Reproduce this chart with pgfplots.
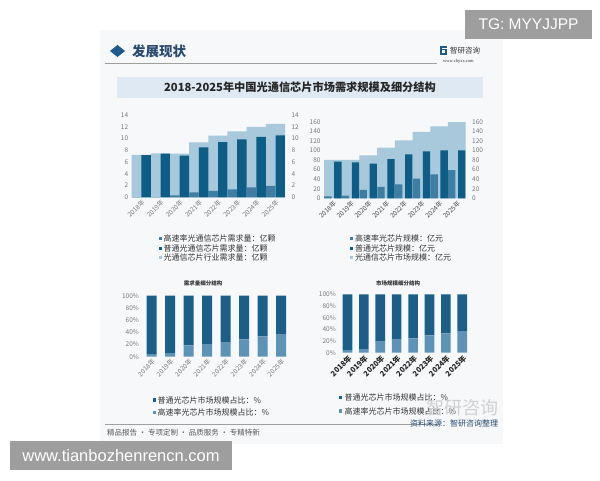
\documentclass[border=0pt]{standalone}
\usepackage{pgfplots}
\pgfplotsset{compat=1.18}
\usepackage{fontspec}
\setmainfont{Noto Sans CJK SC}
\newfontfamily\latin{Liberation Sans}
\newfontfamily\serifl{Liberation Serif}

\definecolor{panel}{HTML}{F6F8FA}
\definecolor{band}{HTML}{DEE9F3}
\definecolor{navy}{HTML}{1F5A8A}
\definecolor{hdr}{HTML}{2A4A70}
\definecolor{light}{HTML}{A8C9DB}
\definecolor{mid}{HTML}{3F7DA3}
\definecolor{dark}{HTML}{0D5D87}
\definecolor{sdark}{HTML}{1B5F89}
\definecolor{smid}{HTML}{5D93B7}
\definecolor{tick}{HTML}{7A7A7A}
\definecolor{txt}{HTML}{333333}
\definecolor{tg}{HTML}{9E9E9E}

\pgfplotsset{
  chart/.style={
    scale only axis, anchor=south west, clip=false,
    axis line style={draw=none}, major tick length=0pt,
    /pgf/number format/assume math mode=true,
    yticklabel style={font=\fontsize{6.5}{7}\selectfont, text=tick},
    xmin=-0.5, xmax=7.5, xtick={0,...,7},
    xticklabels={2018年,2019年,2020年,2021年,2022年,2023年,2024年,2025年},
    x tick label style={rotate=45, anchor=north east, inner sep=1pt,
      font=\fontsize{6.5}{7}\selectfont, text=tick},
  },
  rightlabels/.style={
    scale only axis, anchor=south west,
    axis line style={draw=none}, major tick length=0pt,
    /pgf/number format/assume math mode=true,
    yticklabel pos=right, xtick=\empty,
    yticklabel style={font=\fontsize{6.5}{7}\selectfont, text=tick, xshift=3pt},
    xmin=-0.5, xmax=7.5,
  },
}

\begin{document}
\begin{tikzpicture}[x=1pt,y=1pt]
% canvas and panel
\fill[white] (0,0) rectangle (600,480);
\fill[panel] (100,36) rectangle (503,450);

% header
\fill[navy] (110,429) -- (117.5,435) -- (125,429) -- (117.5,423) -- cycle;
\node[anchor=west, text=hdr, inner sep=0] at (132,429) {\fontsize{13.5}{14}\selectfont\bfseries 发展现状};
\draw[gray!75, line width=0.8pt] (105,416.7) -- (437,416.7);
\fill[navy] (440,425) rectangle (447,434);
\fill[panel] (442,427) rectangle (445,429.5);
\fill[panel] (442,430.5) rectangle (447,432);
\node[anchor=west, text=txt, inner sep=0] at (450,429.5) {\fontsize{7.5}{8}\selectfont 智研咨询};
\node[anchor=west, text=txt, inner sep=0] at (443,418.5) {\serifl\fontsize{4.5}{5}\selectfont www.chyxx.com};

% title band
\fill[band] (117,381.7) rectangle (483,403.3);
\node[text=black!85, inner sep=0] at (300,392.5) {\fontsize{11.2}{12}\selectfont\bfseries 2018-2025年中国光通信芯片市场需求规模及细分结构};

% chart 1: demand volume
\begin{axis}[chart, at={(131.7pt,282.7pt)}, width=153.3pt, height=82.3pt,
  ymin=0, ymax=14, ytick={0,2,...,14}]
\addplot[ybar, bar width=19.2pt, bar shift=0pt, fill=light, draw=none]
  coordinates {(0,7.20) (1,7.48) (2,7.43) (3,9.35) (4,10.48) (5,11.22) (6,11.96) (7,12.47)};
\addplot[ybar, bar width=9.4pt, bar shift=-4.8pt, fill=mid, draw=none]
  coordinates {(0,0.02) (1,0.05) (2,0.34) (3,0.85) (4,1.08) (5,1.36) (6,1.70) (7,1.93)};
\addplot[ybar, bar width=9.4pt, bar shift=4.8pt, fill=dark, draw=none]
  coordinates {(0,7.18) (1,7.43) (2,7.09) (3,8.50) (4,9.40) (5,9.86) (6,10.26) (7,10.54)};
\end{axis}
\begin{axis}[rightlabels, at={(131.7pt,282.7pt)}, width=153.3pt, height=82.3pt,
  ymin=0, ymax=14, ytick={0,2,...,14}]
\end{axis}

% chart 2: market size
\begin{axis}[chart, at={(324pt,281.7pt)}, width=141.7pt, height=76.6pt,
  ymin=0, ymax=160, ytick={0,20,...,160},
  x tick label style={text=black!70}]
\addplot[ybar, bar width=17.7pt, bar shift=0pt, fill=light, draw=none]
  coordinates {(0,80.5) (1,80.5) (2,89.7) (3,105.7) (4,121.2) (5,139) (6,150) (7,159)};
\addplot[ybar, bar width=7.3pt, bar shift=-5pt, fill=mid, draw=none]
  coordinates {(0,4) (1,5.5) (2,17.4) (3,23.7) (4,29.2) (5,41) (6,50) (7,59)};
\addplot[ybar, bar width=7.3pt, bar shift=5pt, fill=dark, draw=none]
  coordinates {(0,76.5) (1,75) (2,72.3) (3,82) (4,92) (5,98) (6,100) (7,100)};
\end{axis}
\begin{axis}[rightlabels, at={(324pt,281.7pt)}, width=141.7pt, height=76.6pt,
  ymin=0, ymax=160, ytick={0,20,...,160}]
\end{axis}

% legends, top row
\foreach \y/\c/\t in {241.7/mid/高速率光通信芯片需求量：亿颗, 231.7/dark/普通光通信芯片需求量：亿颗, 222.7/light/光通信芯片行业需求量：亿颗}{
  \fill[\c] (158.5,\y-1.6) rectangle (161.7,\y+1.6);
  \node[anchor=west, inner sep=0, text=txt] at (163.5,\y) {\fontsize{8}{8}\selectfont \t};
}
\foreach \y/\c/\t in {241.7/mid/高速率光芯片规模：亿元, 231.7/dark/普通光芯片规模：亿元, 222.7/light/光通信芯片市场规模：亿元}{
  \fill[\c] (350,\y-1.6) rectangle (353.2,\y+1.6);
  \node[anchor=west, inner sep=0, text=txt] at (355,\y) {\fontsize{8}{8}\selectfont \t};
}

% subtitles
\node[inner sep=0, text=txt] at (203,197) {\fontsize{5.5}{6}\selectfont\bfseries 需求量细分结构};
\node[inner sep=0, text=txt] at (398,197) {\fontsize{5.5}{6}\selectfont\bfseries 市场规模细分结构};

% chart 3: demand structure
\begin{axis}[chart, at={(142.45pt,123.3pt)}, width=148pt, height=61pt,
  ybar stacked, bar width=10pt,
  ymin=0, ymax=100, ytick={0,20,...,100},
  yticklabels={0\%,20\%,40\%,60\%,80\%,100\%}]
\addplot[fill=smid, draw=none]
  coordinates {(0,4.4) (1,6.0) (2,18.6) (3,20.8) (4,23.0) (5,28.4) (6,33.3) (7,36.0)};
\addplot[fill=sdark, draw=none]
  coordinates {(0,95.6) (1,94.0) (2,81.4) (3,79.2) (4,77.0) (5,71.6) (6,66.7) (7,64.0)};
\end{axis}

% chart 4: market structure
\begin{axis}[chart, at={(339.3pt,127.3pt)}, width=131.2pt, height=58.4pt,
  ybar stacked, bar width=9.6pt,
  ymin=0, ymax=100, ytick={0,20,...,100},
  yticklabels={0\%,20\%,40\%,60\%,80\%,100\%},
  x tick label style={font=\fontsize{7.5}{8}\selectfont\bfseries, text=black!85}]
\addplot[fill=smid, draw=none]
  coordinates {(0,4.6) (1,6.3) (2,18.9) (3,22.3) (4,24.6) (5,29.7) (6,33.1) (7,37.1)};
\addplot[fill=sdark, draw=none]
  coordinates {(0,95.4) (1,93.7) (2,81.1) (3,77.7) (4,75.4) (5,70.3) (6,66.9) (7,62.9)};
\end{axis}

% legends, bottom row
\foreach \y/\c/\t in {80/sdark/普通光芯片市场规模占比：\%, 67.7/smid/高速率光芯片市场规模占比：\%}{
  \fill[\c] (152.5,\y-1.6) rectangle (155.7,\y+1.6);
  \node[anchor=west, inner sep=0, text=txt] at (157.5,\y) {\fontsize{8}{8}\selectfont \t};
}
\foreach \y/\c/\t in {82.3/sdark/普通光芯片市场规模占比：\%, 69/smid/高速率光芯片市场规模占比：\%}{
  \fill[\c] (339,\y-1.6) rectangle (342.2,\y+1.6);
  \node[anchor=west, inner sep=0, text=txt] at (344.5,\y) {\fontsize{8}{8}\selectfont \t};
}

% watermark and footer
\node[text=black!18, inner sep=0] at (462,72) {\fontsize{18}{18}\selectfont 智研咨询};
\draw[gray!75, line width=0.8pt] (105,56) -- (440,56);
\node[anchor=west, inner sep=0, text=black!65] at (107,47) {\fontsize{7.5}{8}\selectfont 精品报告 · 专项定制 · 品质服务 · 专精特新};
\node[anchor=west, inner sep=0, text=hdr] at (410,57) {\fontsize{8}{8}\selectfont 资料来源：智研咨询整理};

% overlay boxes
\fill[tg] (465,441) rectangle (592,470);
\node[text=white, inner sep=0] at (528.5,455.5) {\latin\fontsize{15.5}{16}\selectfont TG: MYYJJPP};
\fill[tg] (10,10) rectangle (232,39);
\node[text=white, inner sep=0] at (121,24.5) {\latin\fontsize{16.5}{17}\selectfont www.tianbozhenrencn.com};
\end{tikzpicture}
\end{document}
